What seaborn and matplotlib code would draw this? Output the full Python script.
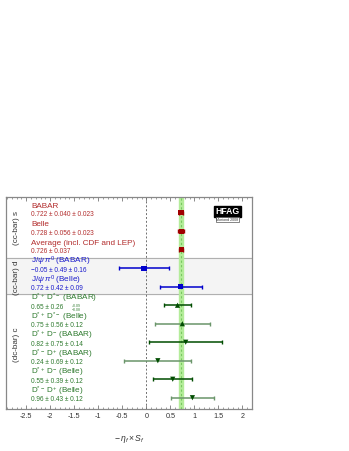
# sin(2beta) from b -> c cbar d / c cbar s modes, HFAG Moriond 2008 style
import numpy as np
import pandas as pd
import matplotlib
matplotlib.use("Agg")
import matplotlib.pyplot as plt
import seaborn as sns

# =============================
# Data
# =============================
names = ["BABAR", "Belle", "Average (incl. CDF and LEP)",
         r"J/$\psi\,\pi^0$ (BABAR)", r"J/$\psi\,\pi^0$ (Belle)",
         r"D$^{*+}$ D$^{*-}$ (BABAR)", r"D$^{*+}$ D$^{*-}$ (Belle)",
         r"D$^{*+}$ D$^{-}$ (BABAR)", r"D$^{*-}$ D$^{+}$ (BABAR)",
         r"D$^{*+}$ D$^{-}$ (Belle)", r"D$^{*-}$ D$^{+}$ (Belle)"]
value_text = ["0.722 ± 0.040 ± 0.023", "0.728 ± 0.056 ± 0.023", "0.726 ± 0.037",
              "−0.05 ± 0.49 ± 0.16", "0.72 ± 0.42 ± 0.09",
              "0.65 ± 0.26", "0.75 ± 0.56 ± 0.12",
              "0.82 ± 0.75 ± 0.14", "0.24 ± 0.69 ± 0.12",
              "0.55 ± 0.39 ± 0.12", "0.96 ± 0.43 ± 0.12"]
central = [0.722, 0.728, 0.726, -0.05, 0.72, 0.65, 0.75, 0.82, 0.24, 0.55, 0.96]
stat = [0.040, 0.056, 0.037, 0.49, 0.42, 0.26, 0.56, 0.75, 0.69, 0.39, 0.43]
syst = [0.023, 0.023, 0.0, 0.16, 0.09, 0.085, 0.12, 0.14, 0.12, 0.12, 0.12]
group = ["s", "s", "s", "d", "d", "c", "c", "c", "c", "c", "c"]
marker_kind = ["s", "s", "s", "s", "s", "^", "^", "v", "v", "v", "v"]

# asymmetric systematic of D*+ D*- (BABAR)
asym_syst = "+0.09\n−0.08"

average = 0.726
average_err = 0.037

group_labels = ["(cc-bar) s", "(cc-bar) d", "(dc-bar) c"]

# colours
text_col = {"s": "#b22c2c", "d": "#1a1acc", "c": "#2e7a2e"}
marker_col = {"s": "#a00000", "d": "#0000cc", "c": "#004d00"}
bar_col = ["#a00000", "#a00000", "#a00000", "#0000cc", "#0000cc",
           "#004d00", "#6a956a", "#004d00", "#6a956a", "#004d00", "#6a956a"]

df = pd.DataFrame({"row": np.arange(len(names)), "value": central,
                   "err": np.sqrt(np.array(stat) ** 2 + np.array(syst) ** 2),
                   "group": group, "kind": marker_kind})

# =============================
# Style
# =============================
sns.set_style("white")
plt.rcParams["font.family"] = ["Liberation Sans", "DejaVu Sans"]
plt.rcParams["mathtext.fontset"] = "custom"
plt.rcParams["mathtext.rm"] = "Liberation Sans"
plt.rcParams["mathtext.it"] = "Liberation Sans:italic"

fig = plt.figure(figsize=(3.49, 4.51), dpi=100)
ax = fig.add_axes([0.0172, 0.0931, 0.7049, 0.4701])

xlo, xhi = -2.92, 2.2
ylo, yhi = 10.61, -0.85

# grey band for the (cc-bar) d block
ax.axhspan(2.43, 4.41, color="#f4f4f4", zorder=0)
for ysep in [2.43, 4.41]:
    ax.axhline(ysep, color="#b0b0b0", lw=0.8, zorder=1)

# average band
ax.axvspan(average - average_err, average + average_err, color="#b4ec9a", zorder=1)
ax.axvline(average, color="#78c860", lw=0.8, ls=(0, (2, 2)), zorder=2)
ax.axvline(0, color="#707070", lw=0.7, ls=(0, (2, 2)), zorder=1)

# error bars
for i, r in df.iterrows():
    ax.errorbar(r["value"], r["row"], xerr=r["err"], fmt="none",
                ecolor=bar_col[i], elinewidth=1.1, capsize=1.6, capthick=1.0, zorder=3)

# markers
sns.scatterplot(data=df, x="value", y="row", hue="group", style="kind",
                palette=marker_col, markers={"s": "s", "^": "^", "v": "v"},
                s=14, edgecolor="none", legend=False, ax=ax, zorder=4)

# labels
for i, r in df.iterrows():
    c = text_col[r["group"]]
    ax.text(-2.4, r["row"] - 0.36, names[i], color=c, fontsize=5.9,
            va="center", ha="left")
    ax.text(-2.4, r["row"] + 0.11, value_text[i], color=c, fontsize=4.7,
            va="center", ha="left")

ax.text(-1.54, 5 + 0.14, asym_syst, color=text_col["c"], fontsize=2.5,
        va="center", ha="left", linespacing=0.9)

for lab, yc in zip(group_labels, [0.8, 3.5, 7.15]):
    ax.text(-2.71, yc, lab, rotation=90, fontsize=5.8, color="#333333",
            ha="center", va="center")

# HFAG logo
ax.text(0.90, 0.932, "HFAG", transform=ax.transAxes, color="white",
        fontsize=6.2, fontweight="bold", ha="center", va="center",
        bbox=dict(boxstyle="square,pad=0.15", fc="black", ec="black"))
ax.text(0.90, 0.893, "Moriond 2008", transform=ax.transAxes, color="#333333",
        fontsize=2.6, ha="center", va="center",
        bbox=dict(boxstyle="square,pad=0.2", fc="white", ec="#555555", lw=0.5))

ax.set_xlim(xlo, xhi)
ax.set_ylim(ylo, yhi)
ax.set_yticks([])
ax.set_xticks(np.arange(-2.5, 2.01, 0.5))
ax.set_xticklabels(["-2.5", "-2", "-1.5", "-1", "-0.5", "0", "0.5", "1", "1.5", "2"])
ax.set_xticks(np.arange(-2.9, 2.2, 0.1), minor=True)
ax.tick_params(axis="x", which="both", direction="in", top=True, bottom=True,
               labelsize=5.2, colors="#333333", pad=3)
ax.tick_params(axis="x", which="major", length=3, width=0.6, color="#777777")
ax.tick_params(axis="x", which="minor", length=1.6, width=0.5, color="#777777")
for sp in ax.spines.values():
    sp.set_color("#888888")
    sp.set_linewidth(0.9)

ax.set_xlabel(r"$-\,\eta_f\times S_f$", fontsize=6.2, color="#333333", labelpad=9)
ax.set_ylabel("")

fig.savefig("out.png", dpi=100)
